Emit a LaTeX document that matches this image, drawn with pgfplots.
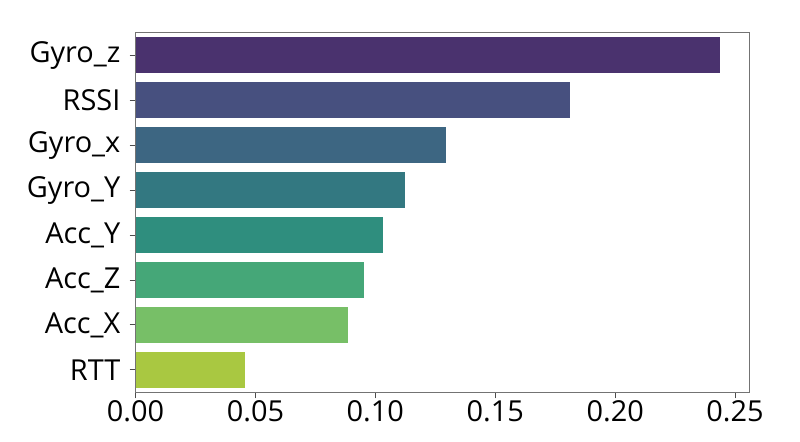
\documentclass[border=0pt]{standalone}
\usepackage{fontspec}
\setmainfont{Open Sans}
\usepackage{pgfplots}
\pgfplotsset{compat=1.18}
\definecolor{c1}{HTML}{4A326E}
\definecolor{c2}{HTML}{47507F}
\definecolor{c3}{HTML}{3D6682}
\definecolor{c4}{HTML}{337881}
\definecolor{c5}{HTML}{2F8E7E}
\definecolor{c6}{HTML}{45A778}
\definecolor{c7}{HTML}{77BF67}
\definecolor{c8}{HTML}{A9C841}
\begin{document}
\begin{tikzpicture}
\useasboundingbox (0,0) rectangle (800bp,442bp);
\begin{axis}[
  at={(135.5bp,49.7bp)}, anchor=south west,
  width=613.5bp, height=359.6bp, scale only axis,
  xmin=0, xmax=0.2558, ymin=-0.5, ymax=7.5, y dir=reverse,
  ytick={0,1,2,3,4,5,6,7},
  yticklabels={Gyro\_z,RSSI,Gyro\_x,Gyro\_Y,Acc\_Y,Acc\_Z,Acc\_X,RTT},
  xtick={0,0.05,0.1,0.15,0.2,0.25},
  scaled x ticks=false,
  x tick label style={/pgf/number format/fixed, /pgf/number format/fixed zerofill, /pgf/number format/precision=2, inner sep=2bp},
  /pgf/number format/assume math mode=true,
  tick align=outside, tick pos=left, major tick length=6bp,
  axis line style={black!55, line width=0.8bp},
  tick style={black!70, line width=0.8bp},
  ticklabel style={font=\fontsize{29}{33}\selectfont},
  y tick label style={inner sep=0pt, xshift=-9bp},
]
\addplot[xbar, bar width=0.8, bar shift=0pt, fill=c1, draw=none] coordinates {(0.2436,0)};
\addplot[xbar, bar width=0.8, bar shift=0pt, fill=c2, draw=none] coordinates {(0.1810,1)};
\addplot[xbar, bar width=0.8, bar shift=0pt, fill=c3, draw=none] coordinates {(0.1293,2)};
\addplot[xbar, bar width=0.8, bar shift=0pt, fill=c4, draw=none] coordinates {(0.1125,3)};
\addplot[xbar, bar width=0.8, bar shift=0pt, fill=c5, draw=none] coordinates {(0.1033,4)};
\addplot[xbar, bar width=0.8, bar shift=0pt, fill=c6, draw=none] coordinates {(0.0953,5)};
\addplot[xbar, bar width=0.8, bar shift=0pt, fill=c7, draw=none] coordinates {(0.0888,6)};
\addplot[xbar, bar width=0.8, bar shift=0pt, fill=c8, draw=none] coordinates {(0.0455,7)};
\end{axis}
\end{tikzpicture}
\end{document}
